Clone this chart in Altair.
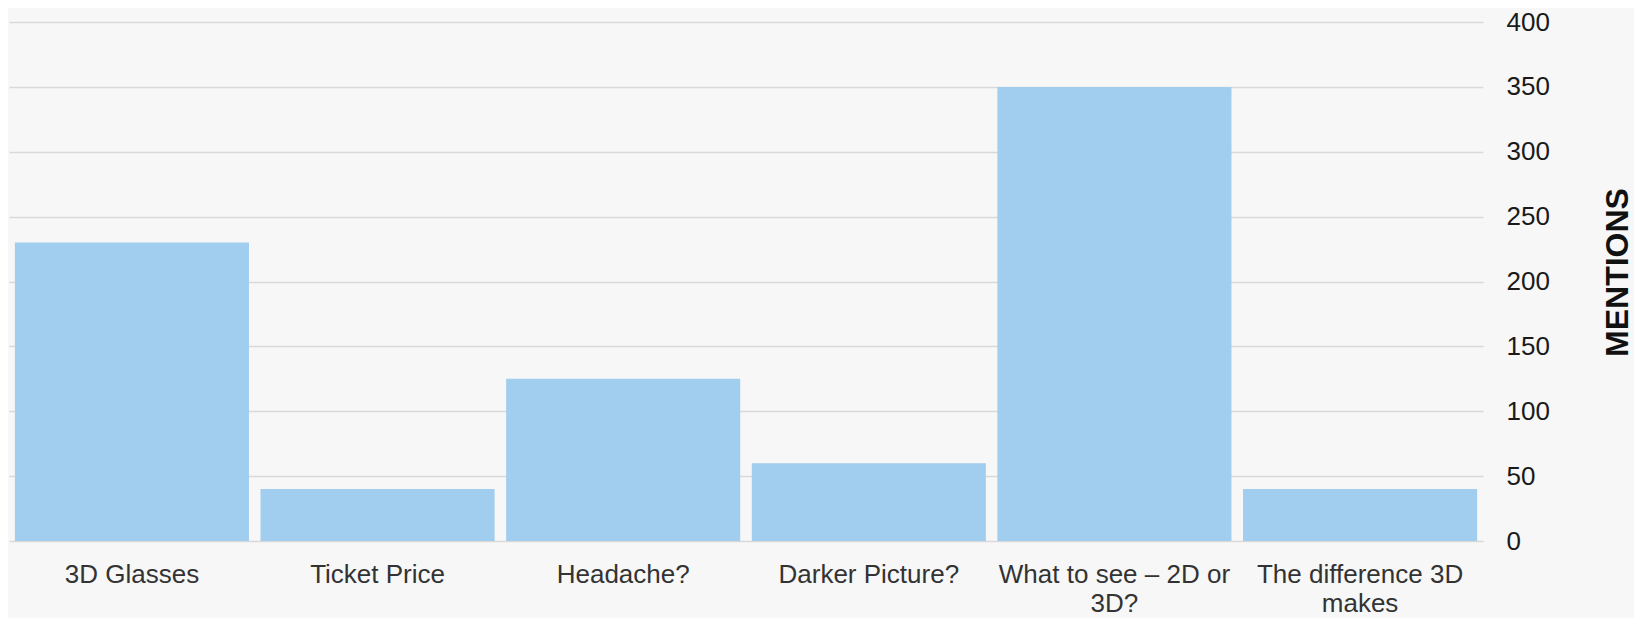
import altair as alt
import pandas as pd
import json

categories = ["3D Glasses", "Ticket Price", "Headache?", "Darker Picture?",
              "What to see – 2D or 3D?", "The difference 3D makes"]
mentions = [230, 40, 125, 60, 350, 40]
wrapped = {
    "What to see – 2D or 3D?": ["What to see – 2D or", "3D?"],
    "The difference 3D makes": ["The difference 3D", "makes"],
}
y_ticks = [0, 50, 100, 150, 200, 250, 300, 350, 400]

df = pd.DataFrame({"category": categories, "mentions": mentions})

expr = "datum.value"
for k, v in wrapped.items():
    expr = f"datum.value == {json.dumps(k)} ? {json.dumps(v)} : ({expr})"

FONT = "Liberation Sans"

chart = alt.Chart(df).mark_bar(color="#a1cdef").encode(
    x=alt.X("category:N", sort=categories,
            scale=alt.Scale(paddingInner=0.047, paddingOuter=0.024),
            axis=alt.Axis(title=None, labelAngle=0, domain=False, ticks=False,
                          labelPadding=20, labelFontSize=26, labelFont=FONT,
                          labelColor="#333333", labelLineHeight=29,
                          labelExpr=expr, labelLimit=0)),
    y=alt.Y("mentions:Q", scale=alt.Scale(domain=[0, 400], nice=False),
            axis=alt.Axis(orient="right", values=y_ticks, domain=False, ticks=False,
                          grid=True, gridColor="#d9d9d9", gridWidth=1.5,
                          labelPadding=23, labelFontSize=26, labelFont=FONT,
                          labelColor="#1a1a1a", labelAlign="left",
                          title="MENTIONS", titleFont=FONT, titleFontSize=32,
                          titleFontWeight="bold", titleColor="#111111",
                          titleAngle=270, titleAlign="center", titleBaseline="middle",
                          titleX=134, titleY=250)),
).properties(
    width=1474, height=519,
    background="#f7f7f7",
    autosize=alt.AutoSizeParams(type="none"),
    padding={"left": 1, "top": 14, "right": 151, "bottom": 77},
).configure_view(stroke=None)

chart.save("out.html", embed_options={"renderer": "svg", "actions": False})
